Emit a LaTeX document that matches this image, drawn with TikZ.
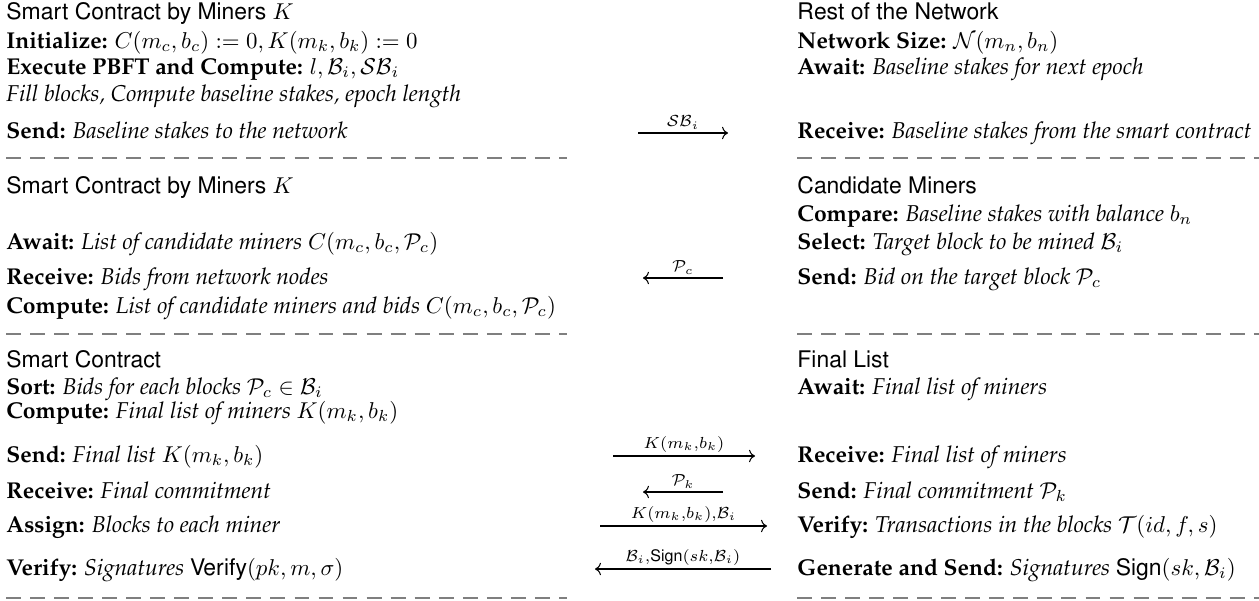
\documentclass[tikz,border=0pt]{standalone}
\usepackage[T1]{fontenc}
\usepackage{amsmath}
\renewcommand{\rmdefault}{ppl}
\renewcommand{\sfdefault}{phv}
\usepackage{tikz}
\usetikzlibrary{arrows.meta,positioning}
\definecolor{rule}{HTML}{7F7F7F}
\newcommand{\act}[2]{\textbf{#1:} \textit{#2}}
\newcommand{\lab}[1]{$\scriptstyle #1$}

\begin{document}
\begin{tikzpicture}[x=0.4367pt,y=-0.4367pt,
  txt/.style={anchor=base west,inner sep=0pt},
  head/.style={txt,font=\sffamily},
  msg/.style={-{Computer Modern Rightarrow},line width=0.45pt},
  lbl/.style={inner sep=1.5pt,above},
  sep/.style={rule,line width=1.1pt,dash pattern=on 6.5pt off 4pt}]
\useasboundingbox (0,0) rectangle (1259,601);
% epoch setup
\node[head] (sc1) at (6,19) {Smart Contract by Miners $K$};
\node[txt] (init) at (6,48) {\textbf{Initialize:} $C(m_c,b_c):=0, K(m_k,b_k):=0$};
\node[txt] (pbft) at (6,74) {\textbf{Execute PBFT and Compute:} $l,\mathcal{B}_i,\mathcal{SB}_i$};
\node[txt] (fill) at (6,101) {\textit{Fill blocks, Compute baseline stakes, epoch length}};
\node[txt] (sendbs) at (6,138) {\act{Send}{Baseline stakes to the network}};
\node[head] (net) at (797,19) {Rest of the Network};
\node[txt] (size) at (797,48) {\textbf{Network Size:} $\mathcal{N}(m_n,b_n)$};
\node[txt] (waitbs) at (797,74) {\act{Await}{Baseline stakes for next epoch}};
\node[txt] (recvbs) at (797,138) {\act{Receive}{Baseline stakes from the smart contract}};
% bidding
\node[head] (sc2) at (6,193) {Smart Contract by Miners $K$};
\node[txt] (waitc) at (6,249) {\act{Await}{List of candidate miners $C(m_c,b_c,\mathcal{P}_c)$}};
\node[txt] (recvbid) at (6,284) {\act{Receive}{Bids from network nodes}};
\node[txt] (compc) at (6,313) {\act{Compute}{List of candidate miners and bids $C(m_c,b_c,\mathcal{P}_c)$}};
\node[head] (cand) at (797,193) {Candidate Miners};
\node[txt] (cmp) at (797,221) {\act{Compare}{Baseline stakes with balance $b_n$}};
\node[txt] (sel) at (797,249) {\act{Select}{Target block to be mined $\mathcal{B}_i$}};
\node[txt] (sendbid) at (797,284) {\act{Send}{Bid on the target block $\mathcal{P}_c$}};
% final list
\node[head] (sc3) at (6,367) {Smart Contract};
\node[txt] (sort) at (6,394) {\act{Sort}{Bids for each blocks $\mathcal{P}_c\in\mathcal{B}_i$}};
\node[txt] (compk) at (6,418) {\act{Compute}{Final list of miners $K(m_k,b_k)$}};
\node[txt] (sendk) at (6,462) {\act{Send}{Final list $K(m_k,b_k)$}};
\node[txt] (recvp) at (6,498) {\act{Receive}{Final commitment}};
\node[txt] (assign) at (6,532) {\act{Assign}{Blocks to each miner}};
\node[txt] (vfy) at (6,575) {\act{Verify}{Signatures} $\textsf{Verify}(pk,m,\sigma)$};
\node[head] (fin) at (797,367) {Final List};
\node[txt] (waitk) at (797,394) {\act{Await}{Final list of miners}};
\node[txt] (recvk) at (797,462) {\act{Receive}{Final list of miners}};
\node[txt] (sendp) at (797,498) {\act{Send}{Final commitment $\mathcal{P}_k$}};
\node[txt] (vtx) at (797,532) {\act{Verify}{Transactions in the blocks $\mathcal{T}(id,f,s)$}};
\node[txt] (gen) at (797,575) {\act{Generate and Send}{Signatures} $\textsf{Sign}(sk,\mathcal{B}_i)$};
% messages
\coordinate (m1a) at (638,133); \coordinate (m1b) at (728,133);
\coordinate (m2a) at (723,278); \coordinate (m2b) at (643,278);
\coordinate (m3a) at (613,456); \coordinate (m3b) at (755,456);
\coordinate (m4a) at (723,492); \coordinate (m4b) at (643,492);
\coordinate (m5a) at (600,526); \coordinate (m5b) at (767,526);
\coordinate (m6a) at (771,569); \coordinate (m6b) at (595,569);
\draw[msg] (m1a) -- node[lbl] {\lab{\mathcal{SB}_i}} (m1b);
\draw[msg] (m2a) -- node[lbl] {\lab{\mathcal{P}_c}} (m2b);
\draw[msg] (m3a) -- node[lbl] {\lab{K(m_k,b_k)}} (m3b);
\draw[msg] (m4a) -- node[lbl] {\lab{\mathcal{P}_k}} (m4b);
\draw[msg] (m5a) -- node[lbl] {\lab{K(m_k,b_k),\mathcal{B}_i}} (m5b);
\draw[msg] (m6a) -- node[lbl] {\lab{\mathcal{B}_i,\textsf{Sign}(sk,\mathcal{B}_i)}} (m6b);
% separators
\foreach \y in {158,334,598} {
  \draw[sep] (6,\y) -- (567,\y);
  \draw[sep] (797,\y) -- (1259,\y);
}
\end{tikzpicture}
\end{document}
